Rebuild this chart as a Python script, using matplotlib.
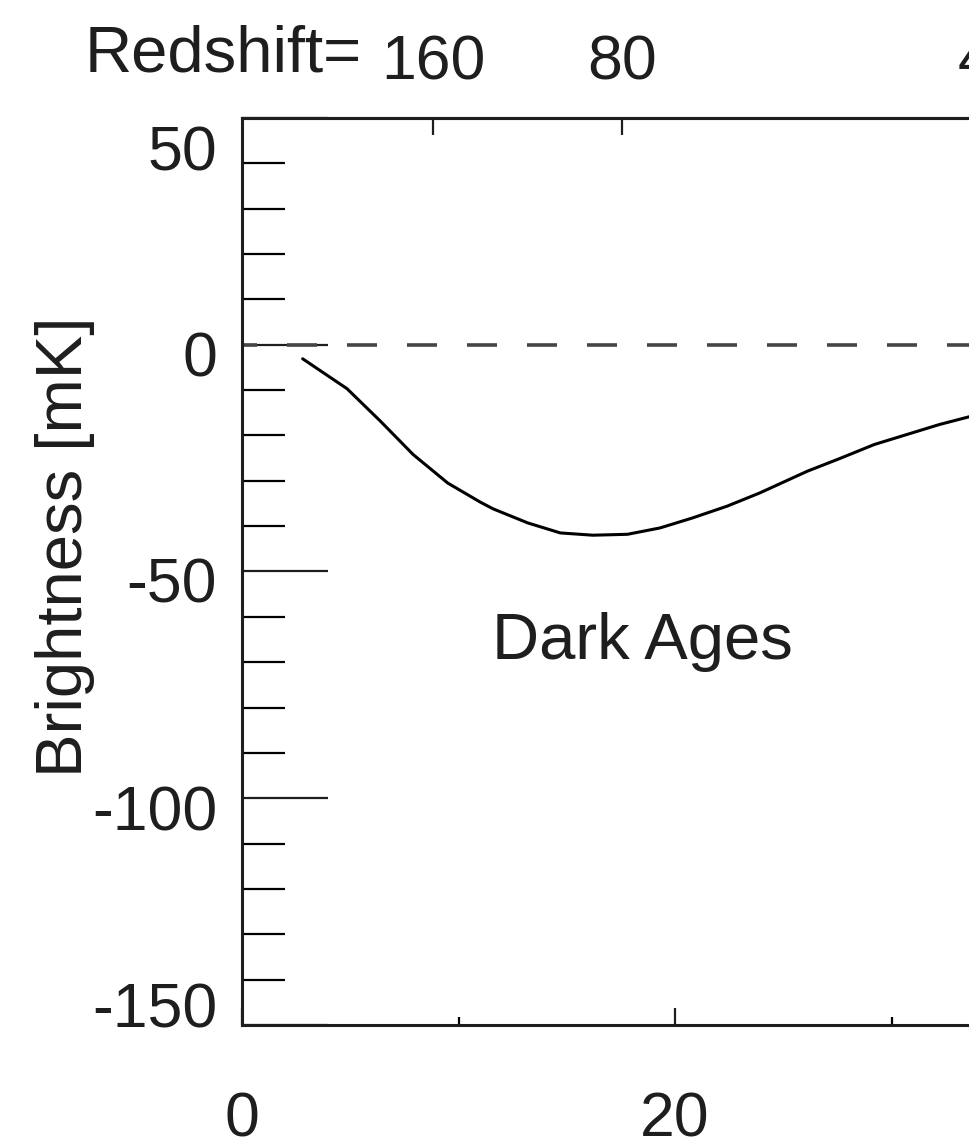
import matplotlib
matplotlib.use("Agg")
import matplotlib.pyplot as plt
from matplotlib.ticker import MultipleLocator
from matplotlib.transforms import ScaledTranslation

# Global 21-cm brightness temperature during the Dark Ages
freq_mhz = [2.8, 4.85, 6.4, 7.9, 9.5, 11.0, 11.6, 13.2, 14.7, 16.2, 17.8,
            19.3, 20.8, 22.4, 23.9, 26.1, 27.6, 29.2, 30.7, 32.2, 33.65]
brightness_mk = [-3.1, -9.7, -16.9, -24.2, -30.5, -34.7, -36.2, -39.3, -41.5,
                 -42.0, -41.8, -40.4, -38.2, -35.6, -32.7, -27.9,
                 -25.1, -22.0, -19.8, -17.6, -15.8]

freq_ticks = [0, 20, 40]
brightness_ticks = [-150, -100, -50, 0, 50]
redshift_ticks = [160, 80, 40, 20]

REST_FREQ = 1420.4  # MHz

plt.rcParams["font.family"] = ["Liberation Sans", "DejaVu Sans"]
plt.rcParams["lines.scale_dashes"] = False
plt.rcParams["axes.unicode_minus"] = False
ink = "#1e1e1e"

fig = plt.figure(figsize=(9.7, 11.44), dpi=100)
ax = fig.add_axes([0.2495, 0.1040, 0.893, 0.7929])

ax.plot(freq_mhz, brightness_mk, color="black", lw=2.2,
        solid_joinstyle="round", solid_capstyle="round")
ax.axhline(0, color="#454545", lw=2.6, linestyle=(10.8, (21.6, 21.6)))

ax.set_xlim(0, 40)
ax.set_ylim(-150, 50)
ax.set_xticks(freq_ticks)
ax.set_yticks(brightness_ticks)
ax.xaxis.set_minor_locator(MultipleLocator(10))
ax.yaxis.set_minor_locator(MultipleLocator(10))

ax.tick_params(axis="x", which="major", direction="in", length=12.2, width=1.6,
               pad=47, labelsize=45, colors=ink, top=False)
ax.tick_params(axis="x", which="minor", direction="in", length=5.8, width=1.6,
               top=False)
ax.tick_params(axis="y", which="major", direction="in", length=62, width=1.6,
               pad=18, labelsize=45, colors=ink, right=False)
ax.tick_params(axis="y", which="minor", direction="in", length=31, width=1.6,
               right=False)

for s in ax.spines.values():
    s.set_linewidth(2.2)
    s.set_color(ink)

# IDL-style label placement: labels sit a bit below their ticks,
# the two end labels are pulled inside the axis range
shift_px = {50: 30, 0: 9, -50: 8, -100: 9, -150: -21}
for val, lab in zip(brightness_ticks, ax.get_yticklabels()):
    off = ScaledTranslation(0, -shift_px[val] / 100, fig.dpi_scale_trans)
    lab.set_transform(lab.get_transform() + off)

# redshift scale along the top (ticks placed at the matching frequency)
top = ax.secondary_xaxis("top", functions=(lambda x: x, lambda x: x))
top.set_xticks([REST_FREQ / (1 + z) for z in redshift_ticks],
               labels=[str(z) for z in redshift_ticks])
top.tick_params(axis="x", direction="in", length=12.2, width=1.6, pad=18,
                labelsize=45, colors=ink)
top.spines["top"].set_linewidth(2.2)
top.spines["top"].set_color(ink)

fig.text(85 / 970, 1 - 72 / 1144, "Redshift=", fontsize=47, color=ink,
         ha="left", va="baseline")
fig.text(65 / 970, 1 - 547 / 1144, "Brightness [mK]", fontsize=47, color=ink,
         rotation=90, ha="center", va="center")
ax.text(18.5, -69.2, "Dark Ages", fontsize=47, color=ink, ha="center",
        va="baseline")

fig.savefig("out.png", dpi=100)
